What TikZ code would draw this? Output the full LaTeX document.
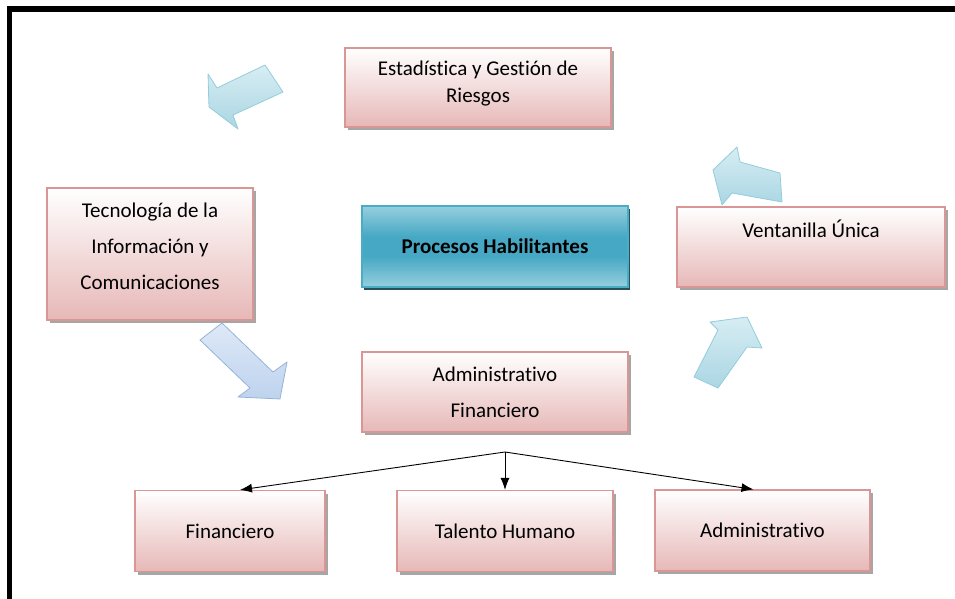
\documentclass[tikz,border=0pt]{standalone}
\usepackage{fontspec}
\setmainfont{Carlito}[Ligatures=NoCommon]
\usetikzlibrary{arrows.meta,shadows}
\definecolor{boxline}{RGB}{217,150,148}
\definecolor{boxpink}{RGB}{230,184,183}
\definecolor{tealline}{RGB}{75,172,198}
\definecolor{tealmid}{RGB}{70,168,196}
\definecolor{teallight}{RGB}{150,207,222}
\definecolor{tealshadow}{RGB}{40,80,92}
\definecolor{arrowblue}{RGB}{170,214,227}
\definecolor{arrowlight}{RGB}{215,237,243}
\definecolor{arrowedge}{RGB}{146,205,220}
\definecolor{arrowlav}{RGB}{190,211,238}
\definecolor{lavlight}{RGB}{222,233,247}
\definecolor{lavedge}{RGB}{149,179,215}
\pgfdeclareverticalshading{tealband}{100bp}{color(0bp)=(teallight); color(25bp)=(teallight); color(44bp)=(tealmid); color(56bp)=(tealmid); color(75bp)=(teallight); color(100bp)=(teallight)}
\tikzstyle{box}=[draw=boxline,line width=1.2pt,top color=white,middle color=boxpink!45!white,bottom color=boxpink,align=center,inner sep=2pt,font=\fontsize{21}{27}\selectfont,drop shadow={shadow xshift=3pt,shadow yshift=-3pt,fill=black!35,opacity=1}]
\tikzstyle{main box}=[draw=tealline,line width=1.2pt,shading=tealband,align=center,inner sep=2pt,font=\fontsize{21}{27}\selectfont\bfseries,drop shadow={shadow xshift=2pt,shadow yshift=-3pt,fill=tealshadow,opacity=1}]
\tikzstyle{block arrow}=[draw=arrowedge,line width=0.8pt,line join=round,top color=arrowlight,bottom color=arrowblue]
\tikzstyle{lav arrow}=[block arrow,draw=lavedge,top color=lavlight,bottom color=arrowlav]
\tikzstyle{link}=[draw,line width=0.9pt,-{Latex[length=12pt,width=9pt]}]

\begin{document}
\begin{tikzpicture}[x=1pt,y=-1pt]
    \useasboundingbox (0,0) rectangle (955,599);

    % Frame
    \draw[line width=5.5pt] (9.5,599) -- (9.5,9) -- (955,9);

    % Boxes
    \node[box,minimum width=266pt,minimum height=79pt,text depth=12pt] (est) at (478,87.5) {Estadística y Gestión de\\Riesgos};
    \node[box,minimum width=206pt,minimum height=132pt,font=\fontsize{21}{36}\selectfont,text depth=16pt] (tic) at (150,254) {Tecnología de la\\Información y\\Comunicaciones};
    \node[main box,minimum width=266pt,minimum height=81pt] (proc) at (495,246.5) {Procesos Habilitantes};
    \node[box,minimum width=268pt,minimum height=80pt,font=\fontsize{21}{36}\selectfont] (vent) at (811,247) {Ventanilla Única\\\mbox{}};
    \node[box,minimum width=266pt,minimum height=80pt,font=\fontsize{21}{36}\selectfont] (admfin) at (495,392) {Administrativo\\Financiero};

    % Bottom boxes
    \foreach \pos/\name/\w/\txt in {{(230,531)/fin/190/Financiero}, {(505,531)/talento/216/Talento Humano},
                                    {(762.5,530.5)/adm/215/Administrativo}}
        \node[box,minimum width=\w pt,minimum height=81pt] (\name) at \pos {\txt};

    % Block arrows
    \path[block arrow] (265,65) -- (283,92) -- (233,115) -- (238,129) -- (209,107) -- (208,74) -- (217,88) -- cycle;
    \path[lav arrow] (222,323) -- (273,372) -- (287,362) -- (280,399) -- (238,397) -- (250,388) -- (200,340) -- cycle;
    \path[block arrow] (694,377) -- (718,388) -- (747,347) -- (762,348) -- (747,317) -- (710,322) -- (718,330) -- cycle;
    \path[block arrow] (782,202) -- (780,173) -- (740,162) -- (737,147) -- (713,170) -- (722,205) -- (732,193) -- cycle;

    % Links
    \coordinate (split) at (505,452);
    \draw[link] (split) -- ([xshift=10pt]fin.north);
    \draw[link] (split) -- (talento.north);
    \draw[link] (split) -- ([xshift=-9pt]adm.north);

\end{tikzpicture}
\end{document}
